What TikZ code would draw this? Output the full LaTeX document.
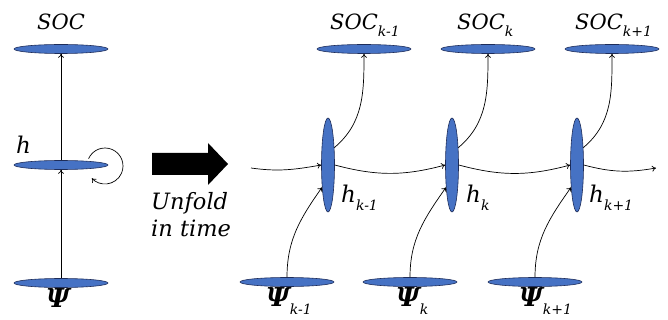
\documentclass[tikz,border=0pt]{standalone}
\usepackage{fontspec}
\setmainfont{DejaVu Serif}
\usetikzlibrary{shapes.geometric,arrows.meta}
\definecolor{blobfill}{RGB}{70,114,196}
\definecolor{blobedge}{RGB}{30,45,90}
\newcommand{\lowsub}[2]{\raisebox{#1}{\fontsize{14}{16}\selectfont\mdseries\itshape #2}}
\begin{document}
\begin{tikzpicture}[x=1pt,y=1pt,
  >={To[length=4pt,width=6pt]},
  conn/.style={->, line width=0.7pt},
  blob/.style={ellipse, draw=blobedge, fill=blobfill, line width=0.6pt, inner sep=0pt},
  hblob/.style={blob, minimum width=94pt, minimum height=9pt},
  vblob/.style={blob, minimum width=13pt, minimum height=94pt},
  lbl/.style={inner sep=0pt, font=\fontsize{21}{25}\selectfont\itshape},
  hlbl/.style={inner sep=0pt, font=\fontsize{23}{27}\selectfont\itshape},
  ulbl/.style={inner sep=0pt, font=\fontsize{22.5}{27}\selectfont\itshape},
  psil/.style={inner sep=0pt, font=\fontsize{26}{30}\selectfont\bfseries\itshape},
]
\useasboundingbox (0,0) rectangle (668,-320);

% ---------- folded network ----------
\node[hblob] (soc) at (61,-49) {};
\node[hblob] (h) at (61,-165) {};
\node[hblob] (psi) at (61,-283) {};
\node[lbl, anchor=base west] (socl) at (37,-30) {SOC};
\node[hlbl, anchor=base west] (hl) at (16,-154) {h};
\node[psil, anchor=base west] (psilbl) at (46,-307) {Ψ};
\draw[conn] (psi) -- (h);
\draw[conn] (h) -- (soc);
\coordinate (loopc) at (105,-166);
\draw[conn] ([shift={(156:18)}]loopc) arc[start angle=156, end angle=-137, radius=18];

% ---------- unfold arrow ----------
\fill (152,-153) -- (208,-153) -- (208,-143) -- (228,-164) -- (208,-185)
      -- (208,-175) -- (152,-175) -- cycle;
\node[ulbl, anchor=base west] (u1) at (151,-209) {Unfold};
\node[ulbl, anchor=base west] (u2) at (151,-236) {in time};

% ---------- unfolded network ----------
\node[vblob] (h1) at (328,-165) {};
\node[vblob] (h2) at (452,-165) {};
\node[vblob] (h3) at (577,-165) {};
\node[hblob] (s1) at (364,-49) {};
\node[hblob] (s2) at (488,-49) {};
\node[hblob] (s3) at (612,-49) {};
\node[hblob] (p1) at (287,-282) {};
\node[hblob] (p2) at (410,-282) {};
\node[hblob] (p3) at (535,-282) {};

\node[lbl, anchor=base west] (s1l) at (330,-30) {SOC\lowsub{-7pt}{k-1}};
\node[lbl, anchor=base west] (s2l) at (457,-30) {SOC\lowsub{-7pt}{k}};
\node[lbl, anchor=base west] (s3l) at (575,-30) {SOC\lowsub{-7pt}{k+1}};
\node[hlbl, anchor=base west] (h1l) at (341,-203) {h\lowsub{-8pt}{k-1}};
\node[hlbl, anchor=base west] (h2l) at (466,-203) {h\lowsub{-8pt}{k}};
\node[hlbl, anchor=base west] (h3l) at (589,-203) {h\lowsub{-8pt}{k+1}};
\node[psil, anchor=base west] (p1l) at (266,-306) {Ψ\lowsub{-8pt}{k-1}};
\node[psil, anchor=base west] (p2l) at (396,-306) {Ψ\lowsub{-8pt}{k}};
\node[psil, anchor=base west] (p3l) at (519,-306) {Ψ\lowsub{-8pt}{k+1}};

\coordinate (hin) at (251,-168);
\coordinate (hout) at (656,-168);
\draw[conn] (hin) to[out=-8, in=190] (h1.west);
\draw[conn] (h1.east) to[out=-15, in=195] (h2.west);
\draw[conn] (h2.east) to[out=-15, in=195] (h3.west);
\draw[conn] (h3.east) to[out=-15, in=190] (hout);

\foreach \i in {1,2,3} {
  \draw[conn] (p\i.north) to[out=90, in=-125] (h\i.-105);
  \draw[conn] (h\i.70) to[out=40, in=-90] (s\i.south);
}
\end{tikzpicture}
\end{document}
